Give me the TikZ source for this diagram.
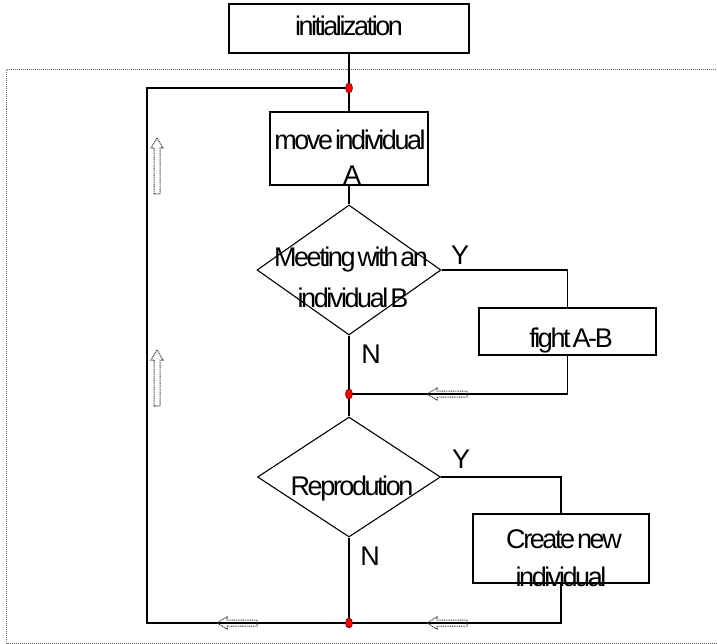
\documentclass[tikz,border=0pt]{standalone}
\usepackage{fontspec}
\setmainfont{Liberation Sans}[LetterSpace=-9, WordSpace=0.4]
\usetikzlibrary{shapes.geometric}
\begin{document}
\begin{tikzpicture}[x=1pt,y=-1pt,
  flow/.style={line width=1.3pt},
  procbox/.style={draw, line width=1.3pt, inner sep=0pt},
  decision/.style={diamond, draw, line width=1.1pt, inner sep=0pt},
  txt/.style={anchor=base, inner sep=0pt, font=\fontsize{27}{37}\selectfont},
  junction/.style={ellipse, draw=black!60!red, fill=red, minimum width=7pt, minimum height=10pt, inner sep=0pt, line width=0.6pt},
  hollow/.style={draw=black!80, dash pattern=on 1pt off 0.8pt, line width=1pt},
  frame/.style={draw=black!60, dash pattern=on 1pt off 1pt, line width=1pt},
  larrow/.pic={\draw[hollow] (0,0) -- ++(10,-6) -- ++(0,3) -- ++(30,0) -- ++(0,6) -- ++(-30,0) -- ++(0,3) -- cycle;},
  uarrow/.pic={\draw[hollow] (0,0) -- ++(6,10) -- ++(-3,0) -- ++(0,46) -- ++(-6,0) -- ++(0,-46) -- ++(-3,0) -- cycle;}
]
\useasboundingbox (0,0) rectangle (717,644);
% dotted frame
\draw[frame] (730,70) -- (6.5,70) -- (6.5,643) -- (730,643);

% boxes
\node[procbox, minimum width=240pt, minimum height=49pt] (init) at (349,28.5) {};
\node[procbox, minimum width=158pt, minimum height=73pt] (move) at (349,148.5) {};
\node[decision, minimum width=184pt, minimum height=130pt] (d1) at (349,270) {};
\node[procbox, minimum width=177pt, minimum height=47pt] (fight) at (567.5,331.5) {};
\node[decision, minimum width=183pt, minimum height=120pt] (d2) at (349,477) {};
\node[procbox, minimum width=176pt, minimum height=69pt] (create) at (561,548.5) {};

% junction points
\coordinate (j1p) at (349,88);
\coordinate (j2p) at (349,394);
\coordinate (j3p) at (349,623);
\coordinate (lb) at (147,623);
\coordinate (lt) at (147,88);

% connectors
\draw[flow] (init.south) -- (move.north);
\draw[flow] (move.south) -- (d1.north);
\draw[flow] (d1.south) -- (j2p);
\draw[flow] (j2p) -- (d2.north);
\draw[flow] (d2.south) -- (j3p);
\draw[flow] (d1.east) -| (fight.north);
\draw[flow] (fight.south) |- (j2p);
\draw[flow] (d2.east) -| (create.north);
\draw[flow] (create.south) |- (j3p);
\draw[flow] (j3p) -- (lb) -- (lt) -- (j1p);

% junction dots
\node[junction] (j1) at (j1p) {};
\node[junction] (j2) at (j2p) {};
\node[junction] (j3) at (j3p) {};

% hollow direction arrows
\pic at (427,394) {larrow};
\pic at (427,623) {larrow};
\pic at (217,623) {larrow};
\pic at (157,138) {uarrow};
\pic at (157,350) {uarrow};

% texts
\node[txt] (tinit) at (349,36) {initialization};
\node[txt] (tmove1) at (350,150) {move individual};
\node[txt] (tmove2) at (352,185) {A};
\node[txt] (td1a) at (351,267) {Meeting with an};
\node[txt] (td1b) at (353,307) {individual B};
\node[txt] (tfight) at (571,347) {fight A-B};
\node[txt] (td2) at (352,495) {Reprodution};
\node[txt] (tcr1) at (564,548) {Create new};
\node[txt] (tcr2) at (561,586) {individual};
\node[txt] (y1) at (460,265) {Y};
\node[txt] (n1) at (371,363) {N};
\node[txt] (y2) at (461,468) {Y};
\node[txt] (n2) at (370,565) {N};
\end{tikzpicture}
\end{document}
